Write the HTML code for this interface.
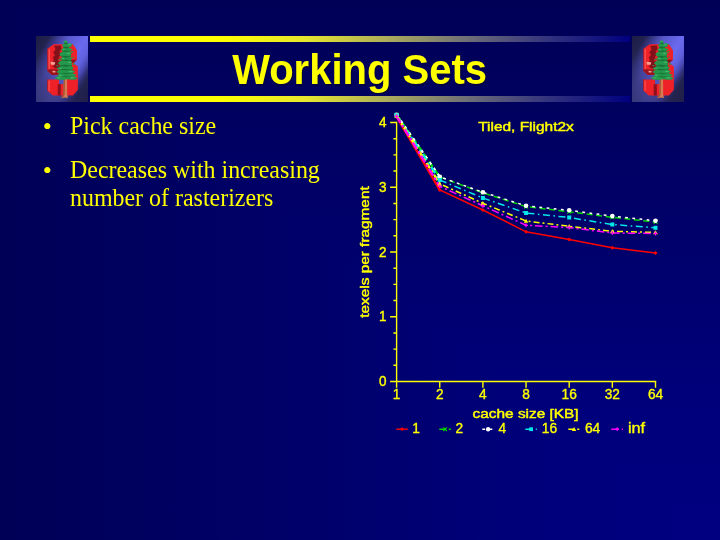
<!DOCTYPE html>
<html lang="en">
<head>
<meta charset="utf-8">
<title>Working Sets</title>
<style>
html,body{margin:0;padding:0;}
body{width:720px;height:540px;overflow:hidden;position:relative;background:#000066;font-family:"Liberation Serif",serif;}
.bg{position:absolute;left:0;top:0;width:720px;height:540px;}
.bg.v{background:linear-gradient(to bottom,#000056 0%,#000069 40%,#00007b 75%,#000081 100%);}
.bg.h{background:linear-gradient(to right,#000056 0%,#000069 40%,#00007b 75%,#000081 100%);clip-path:polygon(0 0,720px 540px,0 540px);}
.bar{position:absolute;left:90px;width:540px;height:6px;background:linear-gradient(to right,#ffff00 0%,#ffff00 24%,#e6e62e 40%,#acac5c 55%,#6e6e78 70%,#32327e 85%,#000080 100%);}
.logo{position:absolute;top:36px;width:52px;height:66px;background:linear-gradient(215.9deg,rgba(36,36,78,0) 0%,rgba(36,36,78,0) 40.3%,rgba(36,36,78,0.55) 78.7%,rgba(36,36,78,0.7) 100%),linear-gradient(121deg,#1c1c44 0%,#232350 15%,#3c3c92 25%,#5858cc 36%,#6a6af0 56%,#6060dc 66.5%,#4a4ab4 73%,#303078 78.5%,#232350 84%,#1b1b44 100%);}
.logo svg{display:block;}
h1{position:absolute;left:89.6px;top:41px;width:540px;height:54px;margin:0;line-height:54px;text-align:center;font:bold 40px/54px "Liberation Sans",sans-serif;color:#ffff00;text-shadow:1px 1px 0 #000044;white-space:nowrap;transform:scaleY(1.06);transform-origin:50% 0;}
ul{position:absolute;left:0;top:0;margin:0;padding:0;list-style:none;}
li{position:absolute;left:70px;width:280px;font-size:24px;line-height:28px;color:#ffff00;white-space:nowrap;}
li::before{content:"\2022";position:absolute;left:-27.2px;top:0.6px;font-size:26px;line-height:28px;letter-spacing:0;}
li span{display:block;transform:scale(0.997,1.045);transform-origin:0 21.8px;}
svg.chart{position:absolute;left:0;top:0;}
</style>
</head>
<body>
<div class="bg v"></div>
<div class="bg h"></div>
<div class="bar" style="top:36px"></div>
<div class="bar" style="top:96px"></div>
<div class="logo" style="left:36px"><svg viewBox="0 0 52 66" width="52" height="66"><path d="M17.7 8.3H37L41 14.6V23.8L37.4 27L41.9 30.5V53.8L37 59.5H16.8L11.3 54.4V43.4H23V48.3H28V39.1H15.6L11.4 34.8V12.8Z" fill="#ee2028"/>
<path d="M11.4 13.4L12.4 12.8V35.2L11.4 34.8ZM11.3 43.6H12.3V55.2L11.3 54.4Z" fill="#a81420"/><path d="M12.4 13.4L14 12.4V34L12.4 34ZM12.3 44.4H13.8V55L12.3 55Z" fill="#fa4a4a"/>
<path d="M18.2 9.8L24.8 9.6L25.5 13L23.5 15.5L25 18.5L22.5 21.5L24.8 22.6H22.3V25.2H24.5L23 28L24.5 31.8L19.5 32.5L16.8 30.5L18.5 28.8L16.2 27L18 24L16.8 21.5L19 19L17.2 16.5L19.5 13.5Z" fill="#84101a"/>
<path d="M11.4 33.2L22.3 33.4V39.1H15.6L11.4 34.8Z" fill="#9a1420"/>
<path d="M33 23.8H41L37.4 27H32ZM21.7 48.3H24.8V59.5H21.7Z" fill="#8e101c"/>
<path d="M14.4 25.7L19.3 26.2L18.6 28.7H15ZM16.4 34.8L19.5 35L19.3 36.6H16.8Z" fill="#f6a092"/>
<path d="M28 39.5H31L31.2 58L31.9 62L28.5 61.4L25 62.2L27.2 58.5Z" fill="#d67a52"/>
<path d="M28 39.5H29L28.6 58.5L27 61.5L25 62.2L27.2 58.5Z" fill="#a4502f"/>
<g transform="translate(29.8 0) scale(1.1 1.01) translate(-29.6 0)">
<path d="M28.8 5L30.4 5L33.6 14L34.4 24L35.6 33L37 42.6L22.6 42.6L23.6 33L25.6 24L26.6 14Z" fill="#1b7c3e"/>
<g fill="#25994b">
<path d="M27.2 5.4L29 4.2L30.4 4.6L31.6 6L30.2 6.8L28 6.6Z"/>
<path d="M26 8.6L28.5 7.4L31 7.8L33.5 7L35.8 8.4L34.4 9.6L35.2 10.6L32 11L29 10.4L27 10.8Z"/>
<path d="M25.4 13L27.6 12L30.5 12.4L33.4 11.8L35.8 13.4L33.6 14.6L30 14.2L26.6 14.8Z"/>
<path d="M23.5 18L25.6 16.2L28.4 15.4L31.4 15.8L33.6 15.4L35.2 17L33.8 18.2L35 19.6L31.6 20.2L28 19.4L25.4 20.2Z"/>
<path d="M24.8 22.4L27.2 20.8L30.2 21.2L33.4 20.6L35.8 22.2L34.2 23.6L30.6 23.2L27.4 23.8Z"/>
<path d="M22.3 27L24.4 25L27.6 24.4L30.8 24.8L33.8 24.2L35.8 26L34.6 27.4L36 28.6L32 29L28.4 28.2L25 29Z"/>
<path d="M21 32.2L23.4 30.6L26.6 30L30 30.5L33.6 29.8L37 31.2L35.6 32.6L31.4 33L27 32.4L23.6 33.4Z"/>
<path d="M21 35.6L23 34L26.4 33.6L30 34L34 33.4L38.2 35L36.6 36.4L32.6 36.8L28 36.2L24 37.2Z"/>
<path d="M21.7 38.8L24 37.4L27.4 37L31 37.4L35.4 36.8L39.5 38.4L38 39.8L33.4 40L28.4 39.4L24.6 40.2Z"/>
<path d="M19.3 41.6L21.8 40L25.4 39.6L29.4 40.2L34 39.6L38 40.2L40.2 41.8L38.4 43.2L34 43.4L30.6 42.8L27 43.6L22.6 43.2Z"/>
</g>
<g fill="#14602e">
<path d="M28.2 6.9L30.6 7L29.5 7.8ZM27.2 11.2L32 11.3L29.6 12.2ZM26.8 15L32 15L29.4 15.7ZM26 20.4L33.6 20.5L29.8 21.2ZM26.5 24L33 24.2L30 24.8ZM25.4 29.2L34 29.4L29.8 30.2ZM24.8 33.4L33.4 33.2L29.4 34ZM25 37.3L35 37.1L30 37.9ZM25.6 40.3L36 40.2L30.6 40.9Z"/>
</g>
<g fill="#5cc880">
<path d="M29 4.8L30.4 5.2L29.2 5.8ZM32 8.2L34.6 8.5L32.2 9.2ZM27 12.8L29 13L27.2 13.7ZM31 16.6L34 16.9L31.3 17.7ZM26 21.8L28.4 22L26.3 22.8ZM32 25.6L35 25.9L32.2 26.7ZM23.6 31.4L26.6 31.6L24 32.3ZM33 34.6L37 34.9L33.3 35.7ZM23.4 38.4L26.6 38.6L24 39.3ZM22 41.2L25.6 41.4L22.5 42.2ZM34 41L38.4 41.2L34.5 42Z"/>
</g>
<g fill="#25994b"><path d="M34.6 14.6L37 15.6L35 16.6ZM22.6 23.2L25 22.2L25 24.2ZM36 20L37.6 21.4L35.4 21.6ZM20.4 29.4L23 28.4L22.6 30.2ZM37 26.6L38.6 28.2L36 28.4Z"/></g>
</g>
</svg></div>
<div class="logo" style="left:632px"><svg viewBox="0 0 52 66" width="52" height="66"><path d="M17.7 8.3H37L41 14.6V23.8L37.4 27L41.9 30.5V53.8L37 59.5H16.8L11.3 54.4V43.4H23V48.3H28V39.1H15.6L11.4 34.8V12.8Z" fill="#ee2028"/>
<path d="M11.4 13.4L12.4 12.8V35.2L11.4 34.8ZM11.3 43.6H12.3V55.2L11.3 54.4Z" fill="#a81420"/><path d="M12.4 13.4L14 12.4V34L12.4 34ZM12.3 44.4H13.8V55L12.3 55Z" fill="#fa4a4a"/>
<path d="M18.2 9.8L24.8 9.6L25.5 13L23.5 15.5L25 18.5L22.5 21.5L24.8 22.6H22.3V25.2H24.5L23 28L24.5 31.8L19.5 32.5L16.8 30.5L18.5 28.8L16.2 27L18 24L16.8 21.5L19 19L17.2 16.5L19.5 13.5Z" fill="#84101a"/>
<path d="M11.4 33.2L22.3 33.4V39.1H15.6L11.4 34.8Z" fill="#9a1420"/>
<path d="M33 23.8H41L37.4 27H32ZM21.7 48.3H24.8V59.5H21.7Z" fill="#8e101c"/>
<path d="M14.4 25.7L19.3 26.2L18.6 28.7H15ZM16.4 34.8L19.5 35L19.3 36.6H16.8Z" fill="#f6a092"/>
<path d="M28 39.5H31L31.2 58L31.9 62L28.5 61.4L25 62.2L27.2 58.5Z" fill="#d67a52"/>
<path d="M28 39.5H29L28.6 58.5L27 61.5L25 62.2L27.2 58.5Z" fill="#a4502f"/>
<g transform="translate(29.8 0) scale(1.1 1.01) translate(-29.6 0)">
<path d="M28.8 5L30.4 5L33.6 14L34.4 24L35.6 33L37 42.6L22.6 42.6L23.6 33L25.6 24L26.6 14Z" fill="#1b7c3e"/>
<g fill="#25994b">
<path d="M27.2 5.4L29 4.2L30.4 4.6L31.6 6L30.2 6.8L28 6.6Z"/>
<path d="M26 8.6L28.5 7.4L31 7.8L33.5 7L35.8 8.4L34.4 9.6L35.2 10.6L32 11L29 10.4L27 10.8Z"/>
<path d="M25.4 13L27.6 12L30.5 12.4L33.4 11.8L35.8 13.4L33.6 14.6L30 14.2L26.6 14.8Z"/>
<path d="M23.5 18L25.6 16.2L28.4 15.4L31.4 15.8L33.6 15.4L35.2 17L33.8 18.2L35 19.6L31.6 20.2L28 19.4L25.4 20.2Z"/>
<path d="M24.8 22.4L27.2 20.8L30.2 21.2L33.4 20.6L35.8 22.2L34.2 23.6L30.6 23.2L27.4 23.8Z"/>
<path d="M22.3 27L24.4 25L27.6 24.4L30.8 24.8L33.8 24.2L35.8 26L34.6 27.4L36 28.6L32 29L28.4 28.2L25 29Z"/>
<path d="M21 32.2L23.4 30.6L26.6 30L30 30.5L33.6 29.8L37 31.2L35.6 32.6L31.4 33L27 32.4L23.6 33.4Z"/>
<path d="M21 35.6L23 34L26.4 33.6L30 34L34 33.4L38.2 35L36.6 36.4L32.6 36.8L28 36.2L24 37.2Z"/>
<path d="M21.7 38.8L24 37.4L27.4 37L31 37.4L35.4 36.8L39.5 38.4L38 39.8L33.4 40L28.4 39.4L24.6 40.2Z"/>
<path d="M19.3 41.6L21.8 40L25.4 39.6L29.4 40.2L34 39.6L38 40.2L40.2 41.8L38.4 43.2L34 43.4L30.6 42.8L27 43.6L22.6 43.2Z"/>
</g>
<g fill="#14602e">
<path d="M28.2 6.9L30.6 7L29.5 7.8ZM27.2 11.2L32 11.3L29.6 12.2ZM26.8 15L32 15L29.4 15.7ZM26 20.4L33.6 20.5L29.8 21.2ZM26.5 24L33 24.2L30 24.8ZM25.4 29.2L34 29.4L29.8 30.2ZM24.8 33.4L33.4 33.2L29.4 34ZM25 37.3L35 37.1L30 37.9ZM25.6 40.3L36 40.2L30.6 40.9Z"/>
</g>
<g fill="#5cc880">
<path d="M29 4.8L30.4 5.2L29.2 5.8ZM32 8.2L34.6 8.5L32.2 9.2ZM27 12.8L29 13L27.2 13.7ZM31 16.6L34 16.9L31.3 17.7ZM26 21.8L28.4 22L26.3 22.8ZM32 25.6L35 25.9L32.2 26.7ZM23.6 31.4L26.6 31.6L24 32.3ZM33 34.6L37 34.9L33.3 35.7ZM23.4 38.4L26.6 38.6L24 39.3ZM22 41.2L25.6 41.4L22.5 42.2ZM34 41L38.4 41.2L34.5 42Z"/>
</g>
<g fill="#25994b"><path d="M34.6 14.6L37 15.6L35 16.6ZM22.6 23.2L25 22.2L25 24.2ZM36 20L37.6 21.4L35.4 21.6ZM20.4 29.4L23 28.4L22.6 30.2ZM37 26.6L38.6 28.2L36 28.4Z"/></g>
</g>
</svg></div>
<h1>Working Sets</h1>
<ul>
<li style="top:112px"><span>Pick cache size</span></li>
<li style="top:156px"><span>Decreases with increasing</span><span>number of rasterizers</span></li>
</ul>
<svg class="chart" width="720" height="540" viewBox="0 0 720 540">
<g stroke="#ffff00" stroke-width="1.4" fill="none" stroke-linecap="butt">
<path d="M396.6 121.8V381.5H656.2"/>
<path d="M390.10 381.50H396.6M393.40 365.31H396.6M393.40 349.12H396.6M393.40 332.94H396.6M390.10 316.75H396.6M393.40 300.56H396.6M393.40 284.38H396.6M393.40 268.19H396.6M390.10 252.00H396.6M393.40 235.81H396.6M393.40 219.62H396.6M393.40 203.44H396.6M390.10 187.25H396.6M393.40 171.06H396.6M393.40 154.88H396.6M393.40 138.69H396.6M390.10 122.50H396.6M396.6 381.5v6.2M439.75 381.5v6.2M482.9 381.5v6.2M526.05 381.5v6.2M569.2 381.5v6.2M612.35 381.5v6.2M655.5 381.5v6.2"/>
</g>
<polyline points="396.6,116.6 439.75,190.0 482.9,210.0 526.05,231.8 569.2,239.5 612.35,247.7 655.5,252.9" fill="none" stroke="#ff0000" stroke-width="1.5"/>
<path d="M396.6 116.6L439.75 190.0" fill="none" stroke="#ff0000" stroke-width="2.3"/>
<polyline points="396.6,114.8 439.75,177.0 482.9,192.8 526.05,206.6 569.2,211.8 612.35,217.3 655.5,222.0" fill="none" stroke="#00d800" stroke-width="1.5" stroke-dasharray="6 3.5"/>
<path d="M396.6 114.8L439.75 177.0" fill="none" stroke="#00d800" stroke-width="2.3" stroke-dasharray="6 3.5"/>
<polyline points="396.6,114.8 439.75,176.8 482.9,192.3 526.05,205.8 569.2,210.3 612.35,216.1 655.5,220.8" fill="none" stroke="#ffffff" stroke-width="1.5" stroke-dasharray="2.8 4.4"/>
<path d="M396.6 114.8L439.75 176.8" fill="none" stroke="#ffffff" stroke-width="2.3" stroke-dasharray="2.8 4.4"/>
<polyline points="396.6,115.3 439.75,180.0 482.9,198.0 526.05,213.0 569.2,217.5 612.35,224.5 655.5,227.8" fill="none" stroke="#00e8e8" stroke-width="1.5" stroke-dasharray="7 3.5 1.6 3.5"/>
<path d="M396.6 115.3L439.75 180.0" fill="none" stroke="#00e8e8" stroke-width="2.3" stroke-dasharray="7 3.5 1.6 3.5"/>
<polyline points="396.6,115.9 439.75,183.8 482.9,203.3 526.05,221.0 569.2,226.3 612.35,231.3 655.5,232.5" fill="none" stroke="#ffff00" stroke-width="1.5" stroke-dasharray="6 3 2 3"/>
<path d="M396.6 115.9L439.75 183.8" fill="none" stroke="#ffff00" stroke-width="2.3" stroke-dasharray="6 3 2 3"/>
<polyline points="396.6,116.3 439.75,186.3 482.9,205.8 526.05,225.3 569.2,227.5 612.35,233.0 655.5,233.5" fill="none" stroke="#ff00ff" stroke-width="1.5" stroke-dasharray="7.5 3 2 3"/>
<path d="M396.6 116.3L439.75 186.3" fill="none" stroke="#ff00ff" stroke-width="2.3" stroke-dasharray="7.5 3 2 3"/>
<path d="M394.60 116.60L396.60 114.60L398.60 116.60L396.60 118.60Z" fill="#ff0000"/>
<path d="M437.75 190.00L439.75 188.00L441.75 190.00L439.75 192.00Z" fill="#ff0000"/>
<path d="M480.90 210.00L482.90 208.00L484.90 210.00L482.90 212.00Z" fill="#ff0000"/>
<path d="M524.05 231.80L526.05 229.80L528.05 231.80L526.05 233.80Z" fill="#ff0000"/>
<path d="M567.20 239.50L569.20 237.50L571.20 239.50L569.20 241.50Z" fill="#ff0000"/>
<path d="M610.35 247.70L612.35 245.70L614.35 247.70L612.35 249.70Z" fill="#ff0000"/>
<path d="M653.50 252.90L655.50 250.90L657.50 252.90L655.50 254.90Z" fill="#ff0000"/>
<path d="M394.70 112.90L398.50 116.70M394.70 116.70L398.50 112.90" stroke="#00d800" stroke-width="1.1" fill="none"/>
<path d="M437.85 175.10L441.65 178.90M437.85 178.90L441.65 175.10" stroke="#00d800" stroke-width="1.1" fill="none"/>
<path d="M481.00 190.90L484.80 194.70M481.00 194.70L484.80 190.90" stroke="#00d800" stroke-width="1.1" fill="none"/>
<path d="M524.15 204.70L527.95 208.50M524.15 208.50L527.95 204.70" stroke="#00d800" stroke-width="1.1" fill="none"/>
<path d="M567.30 209.90L571.10 213.70M567.30 213.70L571.10 209.90" stroke="#00d800" stroke-width="1.1" fill="none"/>
<path d="M610.45 215.40L614.25 219.20M610.45 219.20L614.25 215.40" stroke="#00d800" stroke-width="1.1" fill="none"/>
<path d="M653.60 220.10L657.40 223.90M653.60 223.90L657.40 220.10" stroke="#00d800" stroke-width="1.1" fill="none"/>
<circle cx="396.60" cy="114.80" r="2.30" fill="#ffffff"/>
<circle cx="439.75" cy="176.80" r="2.30" fill="#ffffff"/>
<circle cx="482.90" cy="192.30" r="2.30" fill="#ffffff"/>
<circle cx="526.05" cy="205.80" r="2.30" fill="#ffffff"/>
<circle cx="569.20" cy="210.30" r="2.30" fill="#ffffff"/>
<circle cx="612.35" cy="216.10" r="2.30" fill="#ffffff"/>
<circle cx="655.50" cy="220.80" r="2.30" fill="#ffffff"/>
<rect x="394.60" y="113.30" width="4.00" height="4.00" fill="#00e8e8"/>
<rect x="437.75" y="178.00" width="4.00" height="4.00" fill="#00e8e8"/>
<rect x="480.90" y="196.00" width="4.00" height="4.00" fill="#00e8e8"/>
<rect x="524.05" y="211.00" width="4.00" height="4.00" fill="#00e8e8"/>
<rect x="567.20" y="215.50" width="4.00" height="4.00" fill="#00e8e8"/>
<rect x="610.35" y="222.50" width="4.00" height="4.00" fill="#00e8e8"/>
<rect x="653.50" y="225.80" width="4.00" height="4.00" fill="#00e8e8"/>
<path d="M394.30 117.74L398.90 117.74L396.60 113.60Z" fill="#ffff00"/>
<path d="M437.45 185.64L442.05 185.64L439.75 181.50Z" fill="#ffff00"/>
<path d="M480.60 205.14L485.20 205.14L482.90 201.00Z" fill="#ffff00"/>
<path d="M523.75 222.84L528.35 222.84L526.05 218.70Z" fill="#ffff00"/>
<path d="M566.90 228.14L571.50 228.14L569.20 224.00Z" fill="#ffff00"/>
<path d="M610.05 233.14L614.65 233.14L612.35 229.00Z" fill="#ffff00"/>
<path d="M653.20 234.34L657.80 234.34L655.50 230.20Z" fill="#ffff00"/>
<path d="M394.60 116.30L398.60 116.30M396.60 114.30L396.60 118.30" stroke="#ff00ff" stroke-width="1.2" fill="none"/>
<path d="M437.75 186.30L441.75 186.30M439.75 184.30L439.75 188.30" stroke="#ff00ff" stroke-width="1.2" fill="none"/>
<path d="M480.90 205.80L484.90 205.80M482.90 203.80L482.90 207.80" stroke="#ff00ff" stroke-width="1.2" fill="none"/>
<path d="M524.05 225.30L528.05 225.30M526.05 223.30L526.05 227.30" stroke="#ff00ff" stroke-width="1.2" fill="none"/>
<path d="M567.20 227.50L571.20 227.50M569.20 225.50L569.20 229.50" stroke="#ff00ff" stroke-width="1.2" fill="none"/>
<path d="M610.35 233.00L614.35 233.00M612.35 231.00L612.35 235.00" stroke="#ff00ff" stroke-width="1.2" fill="none"/>
<path d="M653.50 233.50L657.50 233.50M655.50 231.50L655.50 235.50" stroke="#ff00ff" stroke-width="1.2" fill="none"/>
<g font-family="'Liberation Sans', sans-serif" font-size="14.3" fill="#ffff00" stroke="#ffff00" stroke-width="0.45" stroke-linejoin="round">
<text x="478.2" y="130.8" font-size="13.4" textLength="95.6" lengthAdjust="spacingAndGlyphs">Tiled, Flight2x</text>
<text x="472.6" y="417.5" font-size="13.4" textLength="106" lengthAdjust="spacingAndGlyphs">cache size [KB]</text>
<text transform="translate(369.2 317.7) rotate(-90)" font-size="13.4" textLength="131.4" lengthAdjust="spacingAndGlyphs">texels per fragment</text>
<text x="386.6" y="386.2" text-anchor="end" stroke-width="0.4" textLength="7.5" lengthAdjust="spacingAndGlyphs">0</text>
<text x="386.6" y="321.4" text-anchor="end" stroke-width="0.4" textLength="7.5" lengthAdjust="spacingAndGlyphs">1</text>
<text x="386.6" y="256.7" text-anchor="end" stroke-width="0.4" textLength="7.5" lengthAdjust="spacingAndGlyphs">2</text>
<text x="386.6" y="191.9" text-anchor="end" stroke-width="0.4" textLength="7.5" lengthAdjust="spacingAndGlyphs">3</text>
<text x="386.6" y="127.2" text-anchor="end" stroke-width="0.4" textLength="7.5" lengthAdjust="spacingAndGlyphs">4</text>
<text x="396.6" y="399.4" text-anchor="middle" stroke-width="0.35" textLength="7.6" lengthAdjust="spacingAndGlyphs">1</text>
<text x="439.75" y="399.4" text-anchor="middle" stroke-width="0.35" textLength="7.6" lengthAdjust="spacingAndGlyphs">2</text>
<text x="482.9" y="399.4" text-anchor="middle" stroke-width="0.35" textLength="7.6" lengthAdjust="spacingAndGlyphs">4</text>
<text x="526.05" y="399.4" text-anchor="middle" stroke-width="0.35" textLength="7.6" lengthAdjust="spacingAndGlyphs">8</text>
<text x="569.2" y="399.4" text-anchor="middle" stroke-width="0.35" textLength="15.2" lengthAdjust="spacingAndGlyphs">16</text>
<text x="612.35" y="399.4" text-anchor="middle" stroke-width="0.35" textLength="15.2" lengthAdjust="spacingAndGlyphs">32</text>
<text x="655.5" y="399.4" text-anchor="middle" stroke-width="0.35" textLength="15.2" lengthAdjust="spacingAndGlyphs">64</text>
<text x="412.3" y="432.6" stroke-width="0.35" textLength="7.6" lengthAdjust="spacingAndGlyphs">1</text>
<text x="455.6" y="432.6" stroke-width="0.35" textLength="7.6" lengthAdjust="spacingAndGlyphs">2</text>
<text x="498.6" y="432.6" stroke-width="0.35" textLength="7.6" lengthAdjust="spacingAndGlyphs">4</text>
<text x="541.8" y="432.6" stroke-width="0.35" textLength="15.4" lengthAdjust="spacingAndGlyphs">16</text>
<text x="584.9" y="432.6" stroke-width="0.35" textLength="15.4" lengthAdjust="spacingAndGlyphs">64</text>
<text x="627.9" y="432.6" stroke-width="0.35" textLength="17.2" lengthAdjust="spacingAndGlyphs">inf</text>
</g>
<path d="M396.3 429.2h11.6" stroke="#ff0000" stroke-width="1.4" fill="none"/>
<path d="M400.20 429.20L402.10 427.30L404.00 429.20L402.10 431.10Z" fill="#ff0000"/>
<path d="M439.3 429.2h11.6" stroke="#00d800" stroke-width="1.4" fill="none" stroke-dasharray="6 3.5"/>
<path d="M443.30 427.39L446.91 431.00M443.30 431.00L446.91 427.39" stroke="#00d800" stroke-width="1.1" fill="none"/>
<path d="M482.3 429.2h11.6" stroke="#ffffff" stroke-width="1.4" fill="none" stroke-dasharray="2.8 4.4"/>
<circle cx="488.10" cy="429.20" r="2.18" fill="#ffffff"/>
<path d="M525.3 429.2h11.6" stroke="#00e8e8" stroke-width="1.4" fill="none" stroke-dasharray="7 3.5 1.6 3.5"/>
<rect x="529.20" y="427.30" width="3.80" height="3.80" fill="#00e8e8"/>
<path d="M568.3 429.2h11.6" stroke="#ffff00" stroke-width="1.4" fill="none" stroke-dasharray="6 3 2 3"/>
<path d="M571.91 430.95L576.28 430.95L574.10 427.01Z" fill="#ffff00"/>
<path d="M611.3 429.2h11.6" stroke="#ff00ff" stroke-width="1.4" fill="none" stroke-dasharray="7.5 3 2 3"/>
<path d="M615.20 429.20L619.00 429.20M617.10 427.30L617.10 431.10" stroke="#ff00ff" stroke-width="1.2" fill="none"/>
</svg>
</body>
</html>
